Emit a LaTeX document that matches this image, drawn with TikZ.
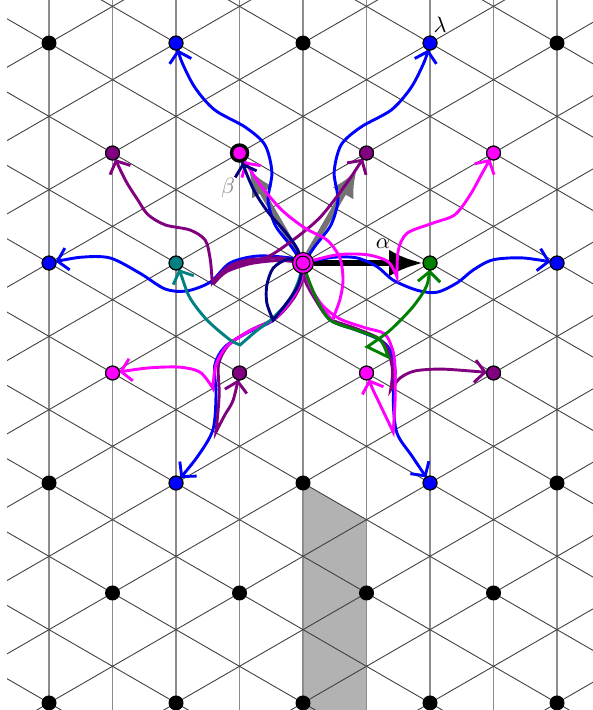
\documentclass[tikz,border=0pt]{standalone}
\usepackage{amsmath, amssymb}
\usepackage{xcolor}
\usepackage{tikz}
\usetikzlibrary{arrows.meta,calc}
\definecolor{mag}{RGB}{255,0,255}
\definecolor{blu}{RGB}{0,0,255}
\definecolor{purp}{RGB}{128,0,128}
\definecolor{navy}{RGB}{0,0,128}
\definecolor{tealc}{RGB}{0,128,128}
\definecolor{greenc}{RGB}{0,128,0}
\pgfdeclarelayer{bg}
\pgfsetlayers{bg,main}

\begin{document}
\begin{tikzpicture}[
    wdot/.style={circle, draw, line width=0.5pt, inner sep=0pt, minimum size=6.2pt},
    lspath/.style={line width=1.3pt, -{Straight Barb[length=4.5pt,width=10pt]}, shorten >=3pt},
    gridv/.style={black!45, line width=0.7pt},
    gridd/.style={black!75, line width=0.4pt},
    rootarrow/.style={line width=2.6pt, -{Latex[length=15pt,width=12pt]}}
]
\useasboundingbox (-4.772,-7.039) rectangle (4.551,4.142);

\foreach \r in {-4,-2,0,2}
  \foreach \c in {-4,-2,...,4}
    \node[wdot, fill=black] (q\c\r) at (\c,{\r*sqrt(3)}) {};
\foreach \r in {-3,-1,1}
  \foreach \c in {-3,-1,...,3}
    \node[wdot, fill=black] (q\c\r) at (\c,{\r*sqrt(3)}) {};

\node[wdot, fill=mag, minimum size=9.4pt] (o) at (0,0) {};
\node[wdot, fill=mag] (oin) at (0,0) {};
\node[wdot, fill=mag, line width=1.5pt, minimum size=7.2pt] (bt) at (-1,{sqrt(3)}) {};

\node[wdot, fill=blu] (lam) at (2,{2*sqrt(3)}) {};
\node[wdot, fill=blu] (bA) at (-2,{2*sqrt(3)}) {};
\node[wdot, fill=blu] (bB) at (-4,0) {};
\node[wdot, fill=blu] (bC) at (4,0) {};
\node[wdot, fill=blu] (bD) at (-2,{-2*sqrt(3)}) {};
\node[wdot, fill=blu] (bE) at (2,{-2*sqrt(3)}) {};

\node[wdot, fill=mag] (mA) at (3,{sqrt(3)}) {};
\node[wdot, fill=mag] (mB) at (-3,{-sqrt(3)}) {};
\node[wdot, fill=mag] (mC) at (1,{-sqrt(3)}) {};

\node[wdot, fill=purp] (vA) at (-3,{sqrt(3)}) {};
\node[wdot, fill=purp] (vB) at (1,{sqrt(3)}) {};
\node[wdot, fill=purp] (vC) at (-1,{-sqrt(3)}) {};
\node[wdot, fill=purp] (vD) at (3,{-sqrt(3)}) {};

\node[wdot, fill=tealc] (tA) at (-2,0) {};
\node[wdot, fill=greenc] (gA) at (2,0) {};

\node (lamlbl) at (2.16,3.75) {$\lambda$};
\node (alpha) at (1.26,0.3) {$\alpha$};
\node[gray] (beta) at (-1.18,1.18) {$\beta$};

\begin{pgfonlayer}{bg}
\fill[black!30] (q0-2.center) -- (1,{-2*sqrt(3)-1/sqrt(3)}) -- (1,-7.1) -- (0,-7.1) -- cycle;
\foreach \k in {-4,...,4}
  \draw[gridv] (\k,-7.1) -- (\k,4.2);
\begin{scope}
\clip (-4.66,-7.1) rectangle (4.7,4.2);
\foreach \m in {-9,...,6} {
  \draw[gridd] (-5,{(2*\m-5)/sqrt(3)}) -- (5,{(2*\m+5)/sqrt(3)});
  \draw[gridd] (-5,{(2*\m+5)/sqrt(3)}) -- (5,{(2*\m-5)/sqrt(3)});
}
\end{scope}

\draw[rootarrow] (o) -- (gA);
\draw[rootarrow, black!55, -{Latex[length=12pt,width=11pt]}, shorten >=4pt] (o) -- (bt);
\draw[rootarrow, black!55, -{Latex[length=12pt,width=11pt]}, shorten >=5.5pt] (o) -- (vB);

\draw[lspath, blu] plot[smooth] coordinates {(o) (-0.20,0.28) (-0.44,0.60) (-0.55,0.99) (-0.49,1.43) (-0.60,1.86) (-0.91,2.14) (-1.39,2.41) (-1.70,2.76) (-1.91,3.17) (bA)};
\draw[lspath, blu] plot[smooth] coordinates {(o) (0.20,0.28) (0.44,0.60) (0.55,0.99) (0.49,1.43) (0.60,1.86) (0.91,2.14) (1.39,2.41) (1.70,2.76) (1.91,3.17) (lam)};
\draw[lspath, blu] plot[smooth] coordinates {(o) (-0.20,0.08) (-0.72,0.11) (-1.15,0) (-1.46,-0.30) (-1.83,-0.44) (-2.17,-0.41) (-2.57,-0.16) (-3.04,0.08) (-3.51,0.09) (bB)};
\draw[lspath, blu] plot[smooth] coordinates {(o) (0.47,0.09) (0.85,0.08) (1.17,-0.06) (1.42,-0.27) (1.80,-0.43) (2.11,-0.46) (2.43,-0.31) (2.68,-0.11) (2.99,0.05) (3.46,0.08) (bC)};
\draw[lspath, blu] plot[smooth] coordinates {(o) (-0.05,-0.27) (-0.20,-0.58) (-0.47,-0.90) (-0.88,-1.10) (-1.23,-1.32) (-1.39,-1.61) (-1.37,-2.08) (-1.42,-2.63) (-1.67,-3.06) (bD)};
\draw[lspath, blu] plot[smooth] coordinates {(o) (0.05,-0.27) (0.22,-0.58) (0.43,-0.90) (0.85,-1.06) (1.21,-1.21) (1.37,-1.37) (1.45,-1.69) (1.42,-2.16) (1.48,-2.68) (1.73,-3.06) (bE)};

\draw[lspath, purp] plot[smooth] coordinates {(o) (-0.36,0.08) (-0.83,0.03) (-1.23,-0.11) (-1.43,-0.31)}
  --plot[smooth] coordinates {(-1.43,-0.31) (-1.46,0.05) (-1.54,0.36) (-1.78,0.52) (-2.17,0.60) (-2.44,0.76) (-2.60,0.99) (-2.80,1.31) (vA)};
\draw[lspath, purp] plot[smooth] coordinates {(o) (-0.36,0.04) (-0.83,-0.01) (-1.21,-0.14) (-1.41,-0.33)}
  --plot[smooth] coordinates {(-1.41,-0.33) (-1.20,-0.07) (-0.88,0.05) (-0.57,0.09) (-0.16,0.36) (0.27,0.72) (0.69,1.26) (vB)};
\draw[lspath, purp] plot[smooth] coordinates {(o) (-0.01,-0.27) (-0.15,-0.56) (-0.42,-0.86) (-0.83,-1.06) (-1.17,-1.29) (-1.33,-1.60) (-1.32,-2.08) (-1.37,-2.66)}
  --plot[smooth] coordinates {(-1.37,-2.66) (-1.23,-2.39) (-1.10,-2.16) (vC)};
\draw[lspath, purp] plot[smooth] coordinates {(o) (0.03,-0.27) (0.19,-0.57) (0.41,-0.87) (0.83,-1.03) (1.18,-1.18) (1.33,-1.36) (1.41,-1.69) (1.38,-2.00)}
  --plot[smooth] coordinates {(1.38,-2.00) (1.53,-1.81) (1.76,-1.70) (2.16,-1.67) (2.63,-1.70) (vD)};

\draw[lspath, mag] plot[smooth] coordinates {(o) (0.54,0.13) (1.01,0.13) (1.34,0.02) (1.48,-0.22)}
  --plot[smooth] coordinates {(1.48,-0.22) (1.50,0.20) (1.64,0.47) (2.05,0.63) (2.39,0.76) (2.63,1.07) (2.83,1.43) (mA)};
\draw[lspath, mag] plot[smooth] coordinates {(o) (-0.03,-0.27) (-0.18,-0.57) (-0.45,-0.88) (-0.86,-1.08) (-1.20,-1.31) (-1.37,-1.60) (-1.42,-1.97)}
  --plot[smooth] coordinates {(-1.42,-1.97) (-1.62,-1.72) (-1.94,-1.64) (-2.41,-1.65) (-2.80,-1.70) (mB)};
\draw[lspath, mag] plot[smooth] coordinates {(o) (0.11,-0.35) (0.30,-0.66) (0.58,-0.88) (0.98,-1.02) (1.29,-1.12) (1.42,-1.40) (1.45,-1.69) (1.45,-2.16) (1.42,-2.66)}
  --plot[smooth] coordinates {(1.42,-2.66) (1.29,-2.39) (1.18,-2.16) (1.09,-1.97) (mC)};
\draw[lspath, mag, shorten >=4.5pt] plot[smooth] coordinates {(o) (0.11,-0.35) (0.27,-0.66) (0.46,-0.90)}
  --plot[smooth] coordinates {(0.46,-0.90) (0.58,-0.58) (0.63,-0.27) (0.58,0.08) (0.38,0.36) (0.03,0.55) (-0.33,0.83) (-0.65,1.20) (-0.87,1.53) (bt)};

\draw[lspath, tealc] plot[smooth] coordinates {(o) (-0.07,-0.28) (-0.22,-0.59) (-0.49,-0.88) (-0.76,-1.09) (-0.99,-1.29)}
  --plot[smooth] coordinates {(-0.99,-1.29) (-1.15,-1.21) (-1.51,-0.90) (-1.78,-0.55) (-1.92,-0.19) (tA)};
\draw[lspath, greenc] plot[smooth] coordinates {(o) (0.06,-0.19) (0.22,-0.58) (0.43,-0.90) (0.85,-1.06) (1.21,-1.21) (1.34,-1.48)}
  -- (1.01,-1.32)
  --plot[smooth] coordinates {(1.01,-1.32) (1.37,-1.06) (1.73,-0.69) (1.95,-0.35) (gA)};
\draw[lspath, navy, shorten >=4.5pt] plot[smooth] coordinates {(o) (-0.24,0.06) (-0.47,-0.08) (-0.57,-0.35) (-0.57,-0.63) (-0.47,-0.90)}
  --plot[smooth] coordinates {(-0.47,-0.90) (-0.28,-0.66) (-0.09,-0.38) (-0.02,-0.11) (-0.08,0.20) (-0.28,0.49) (-0.55,0.80) (-0.76,1.12) (-0.91,1.46) (bt)};
\end{pgfonlayer}
\end{tikzpicture}
\end{document}
